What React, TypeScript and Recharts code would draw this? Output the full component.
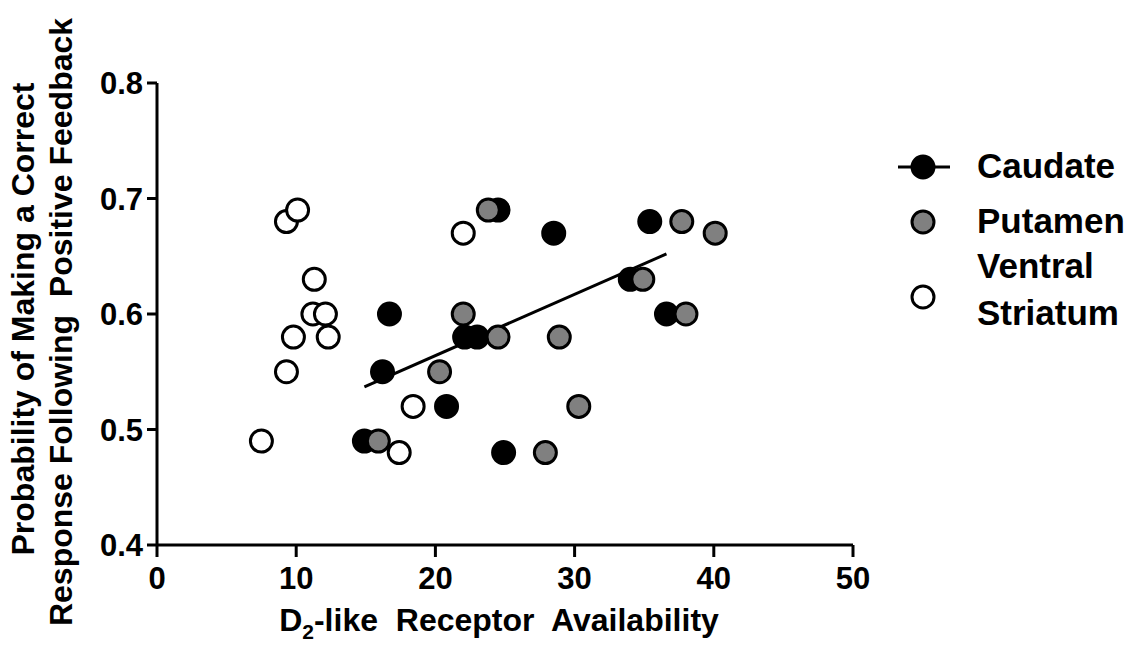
import { Scatter, ScatterChart, XAxis, YAxis } from 'recharts'

const FONT = '"Liberation Sans", Arial, sans-serif'

const caudate = [
  { x: 14.9, y: 0.49 },
  { x: 16.2, y: 0.55 },
  { x: 16.7, y: 0.6 },
  { x: 20.8, y: 0.52 },
  { x: 22.1, y: 0.58 },
  { x: 23.0, y: 0.58 },
  { x: 24.5, y: 0.69 },
  { x: 24.9, y: 0.48 },
  { x: 28.5, y: 0.67 },
  { x: 34.0, y: 0.63 },
  { x: 35.4, y: 0.68 },
  { x: 36.6, y: 0.6 },
]

const putamen = [
  { x: 15.9, y: 0.49 },
  { x: 20.3, y: 0.55 },
  { x: 22.0, y: 0.6 },
  { x: 23.8, y: 0.69 },
  { x: 24.5, y: 0.58 },
  { x: 27.9, y: 0.48 },
  { x: 28.9, y: 0.58 },
  { x: 30.3, y: 0.52 },
  { x: 34.9, y: 0.63 },
  { x: 37.7, y: 0.68 },
  { x: 38.0, y: 0.6 },
  { x: 40.1, y: 0.67 },
]

const ventralStriatum = [
  { x: 7.5, y: 0.49 },
  { x: 9.3, y: 0.68 },
  { x: 10.1, y: 0.69 },
  { x: 11.3, y: 0.63 },
  { x: 9.8, y: 0.58 },
  { x: 9.3, y: 0.55 },
  { x: 11.2, y: 0.6 },
  { x: 12.1, y: 0.6 },
  { x: 12.3, y: 0.58 },
  { x: 22.0, y: 0.67 },
  { x: 18.4, y: 0.52 },
  { x: 17.4, y: 0.48 },
]

// caudate fit line, endpoints
const fitLine = [
  { x: 14.9, y: 0.537 },
  { x: 36.6, y: 0.652 },
]

const xTicks = [0, 10, 20, 30, 40, 50]
const yTicks = [0.4, 0.5, 0.6, 0.7, 0.8]

const legendItems = [
  { name: 'Caudate', fill: '#000000', line: true },
  { name: 'Putamen', fill: '#808080', line: false },
  { name: 'Ventral|Striatum', fill: '#ffffff', line: false },
]

function dot(fill: string) {
  return (props: any) => (
    <circle cx={props.cx} cy={props.cy} r={11} fill={fill} stroke="#000" strokeWidth={3} />
  )
}

function LegendBox() {
  return (
    <svg width={249} height={200} style={{ position: 'absolute', left: 890, top: 140 }}>
      {legendItems.map((it, i) => {
        const lines = it.name.split('|')
        const cy = [27, 82, 157][i]
        return (
          <g key={it.name}>
            {it.line && <line x1={8} x2={60} y1={cy} y2={cy} stroke="#000" strokeWidth={3} />}
            <circle cx={33} cy={cy} r={11} fill={it.fill} stroke="#000" strokeWidth={3} />
            {lines.map((t, j) => (
              <text
                key={t}
                x={87}
                y={lines.length > 1 ? cy - 19 + j * 47 : cy + 11}
                fontFamily={FONT}
                fontWeight="bold"
                fontSize={35}
                fill="#000"
              >
                {t}
              </text>
            ))}
          </g>
        )
      })}
    </svg>
  )
}

function YLabel() {
  return (
    <g fontFamily={FONT} fontWeight="bold" fontSize={32} fill="#000">
      <text x={34} y={319} textAnchor="middle" transform="rotate(-90 34 319)">
        Probability of Making a Correct
      </text>
      <text
        x={72}
        y={322}
        textAnchor="middle"
        transform="rotate(-90 72 322)"
        style={{ whiteSpace: 'pre' }}
      >
        {'Response Following  Positive Feedback'}
      </text>
    </g>
  )
}

function XLabel() {
  return (
    <text
      x={499}
      y={631}
      textAnchor="middle"
      fontFamily={FONT}
      fontWeight="bold"
      fontSize={32}
      fill="#000"
      style={{ whiteSpace: 'pre' }}
    >
      D<tspan fontSize={21} dy={8}>2</tspan>
      <tspan dy={-8}>{'-like  Receptor  Availability'}</tspan>
    </text>
  )
}

export default function App() {
  const tickStyle = { fontFamily: FONT, fontWeight: 'bold', fontSize: 31, fill: '#000' }
  return (
    <div style={{ position: 'absolute', left: 0, top: 0, width: 1139, height: 651, background: '#fff' }}>
      <ScatterChart width={1139} height={651} margin={{ top: 83, right: 286, bottom: 46, left: 57 }}>
        <XAxis
          type="number"
          dataKey="x"
          domain={[0, 50]}
          ticks={xTicks}
          tick={tickStyle}
          tickSize={12}
          tickMargin={10}
          height={60}
          stroke="#000"
          strokeWidth={3}
          tickLine={{ stroke: '#000', strokeWidth: 3 }}
          label={{ content: () => <XLabel /> }}
        />
        <YAxis
          type="number"
          dataKey="y"
          domain={[0.4, 0.8]}
          ticks={yTicks}
          tickFormatter={(v: number) => v.toFixed(1)}
          tick={tickStyle}
          tickSize={10}
          tickMargin={4}
          width={100}
          stroke="#000"
          strokeWidth={3}
          tickLine={{ stroke: '#000', strokeWidth: 3 }}
          label={{ content: () => <YLabel /> }}
        />
        <Scatter
          name="fit"
          data={fitLine}
          line={{ stroke: '#000', strokeWidth: 3 }}
          shape={() => <g />}
          legendType="none"
          isAnimationActive={false}
        />
        <Scatter name="Caudate" data={caudate} shape={dot('#000000')} isAnimationActive={false} />
        <Scatter name="Putamen" data={putamen} shape={dot('#808080')} isAnimationActive={false} />
        <Scatter
          name="Ventral Striatum"
          data={ventralStriatum}
          shape={dot('#ffffff')}
          isAnimationActive={false}
        />
      </ScatterChart>
      <LegendBox />
    </div>
  )
}
